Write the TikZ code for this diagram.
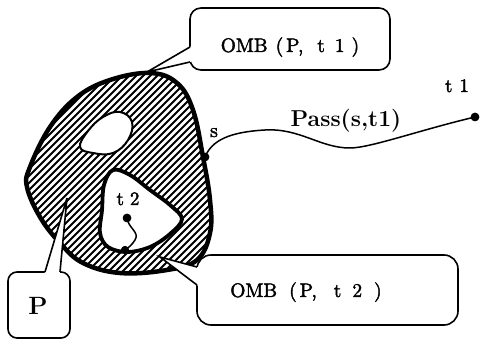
\documentclass[tikz,border=0pt]{standalone}
\usepackage{fontspec}
\newfontfamily\lmten{lmroman10-regular.otf}[FakeBold=2]
\usetikzlibrary{calc}
\begin{document}
\begin{tikzpicture}[x=1pt,y=-1pt,
  outline/.style={line width=4.5pt, line join=round},
  callout/.style={draw, line width=1.6pt, fill=white, rounded corners=11pt, inner sep=0pt},
  tail/.style={line width=1.6pt, line join=miter},
  dot/.style={circle, fill=black, inner sep=0pt, minimum size=8.5pt},
  lbl/.style={font=\lmten\fontsize{19.5}{22}\selectfont},
  small/.style={font=\lmten\fontsize{20}{22}\selectfont}]
\useasboundingbox (0,0) rectangle (480,339);

% hatched region P
\begin{scope}
\clip plot[smooth cycle, tension=0.65] coordinates {(150,73) (177,83) (193,110) (203,157) (210,200) (210,233) (197,260) (167,270) (120,273) (83,263) (60,243) (40,217) (27,187) (30,167) (50,127) (77,97) (110,80)};
\foreach \k in {-214,-207,...,200} \draw[line width=1.9pt] (\k,300) -- ++(270,-270);
\end{scope}
% hole
\filldraw[fill=white, line width=2pt] plot[smooth cycle, tension=0.7] coordinates {(103,117) (120,112) (132,122) (128,140) (113,153) (93,153) (80,147) (88,131)};
% region containing t2
\filldraw[fill=white, line width=3.8pt, line join=round] plot[smooth cycle, tension=0.6] coordinates {(113,170) (104,185) (102,210) (100,233) (108,247) (127,252) (150,247) (170,234) (182,219) (170,205) (150,190) (130,175)};
% outer outline
\draw[outline] plot[smooth cycle, tension=0.65] coordinates {(150,73) (177,83) (193,110) (203,157) (210,200) (210,233) (197,260) (167,270) (120,273) (83,263) (60,243) (40,217) (27,187) (30,167) (50,127) (77,97) (110,80)};

% points
\node[dot] (s) at (205,157) {};
\node[dot] (t1) at (475,117) {};
\node[dot] (t2) at (127,218) {};
\node[dot, minimum size=8pt] (b) at (125,250) {};
\draw[line width=1.5pt] (s.center) .. controls (212,140) and (230,132) .. (265,130)
   .. controls (300,128) and (320,148) .. (350,148)
   .. controls (370,148) and (420,130) .. (t1.center);
\draw[line width=1.5pt] (t2.center) .. controls (128,228) and (140,232) .. (135,240)
   .. controls (132,245) and (128,248) .. (b.center);
\node[dot] at (s) {};
\node[dot] at (t1) {};
\node[dot] at (t2) {};
\node[dot, minimum size=8pt] at (b) {};

% labels
\node[small, anchor=base] (slbl) at (214,137) {s};
\node[font=\lmten\fontsize{19}{21}\selectfont, anchor=base] (t1lbl) at (457,92) {t\hspace{7pt}1};
\node[font=\lmten\fontsize{19}{21}\selectfont, anchor=base] (t2lbl) at (128,205) {t\hspace{6pt}2};
\node[font=\bfseries\fontsize{23}{26}\selectfont, anchor=base] (pass) at (346,127) {Pass(s,t1)};

% callout OMB(P,t1)
\node[callout, minimum width=200pt, minimum height=62pt] (c1) at (290,39) {};
\coordinate (c1tip) at (147,72);
\fill[white] (c1tip) -- (192,45.8) -- (192,61.5) -- cycle;
\draw[tail] (190,47) -- (c1tip) -- (190,62);
\node[lbl, anchor=base] (c1txt) at (290,52) {OMB\hspace{8pt}(\hspace{3pt}P,\hspace{14pt}t\hspace{10pt}1\hspace{7pt})};

% callout OMB(P,t2)
\node[callout, minimum width=261pt, minimum height=70pt, rounded corners=14pt] (c2) at (327.5,290) {};
\coordinate (c2tip) at (160,257);
\fill[white] (c2tip) -- (199,267.5) -- (199,286.5) -- cycle;
\draw[tail] (197,267) -- (c2tip) -- (197,285);
\node[lbl, anchor=base] (c2txt) at (306,297) {OMB\hspace{12pt}(\hspace{3pt}P,\hspace{17pt}t\hspace{11pt}2\hspace{12pt})};

% callout P
\node[callout, minimum width=62pt, minimum height=66pt, rounded corners=9pt] (pbox) at (39,305) {};
\coordinate (ptip) at (67,198);
\fill[white] (ptip) -- (44.4,274) -- (59.8,274) -- cycle;
\draw[tail] (45,272) -- (ptip) -- (60,272);
\node[font=\bfseries\fontsize{25}{28}\selectfont, anchor=base] (plbl) at (38,315) {P};
\end{tikzpicture}
\end{document}
